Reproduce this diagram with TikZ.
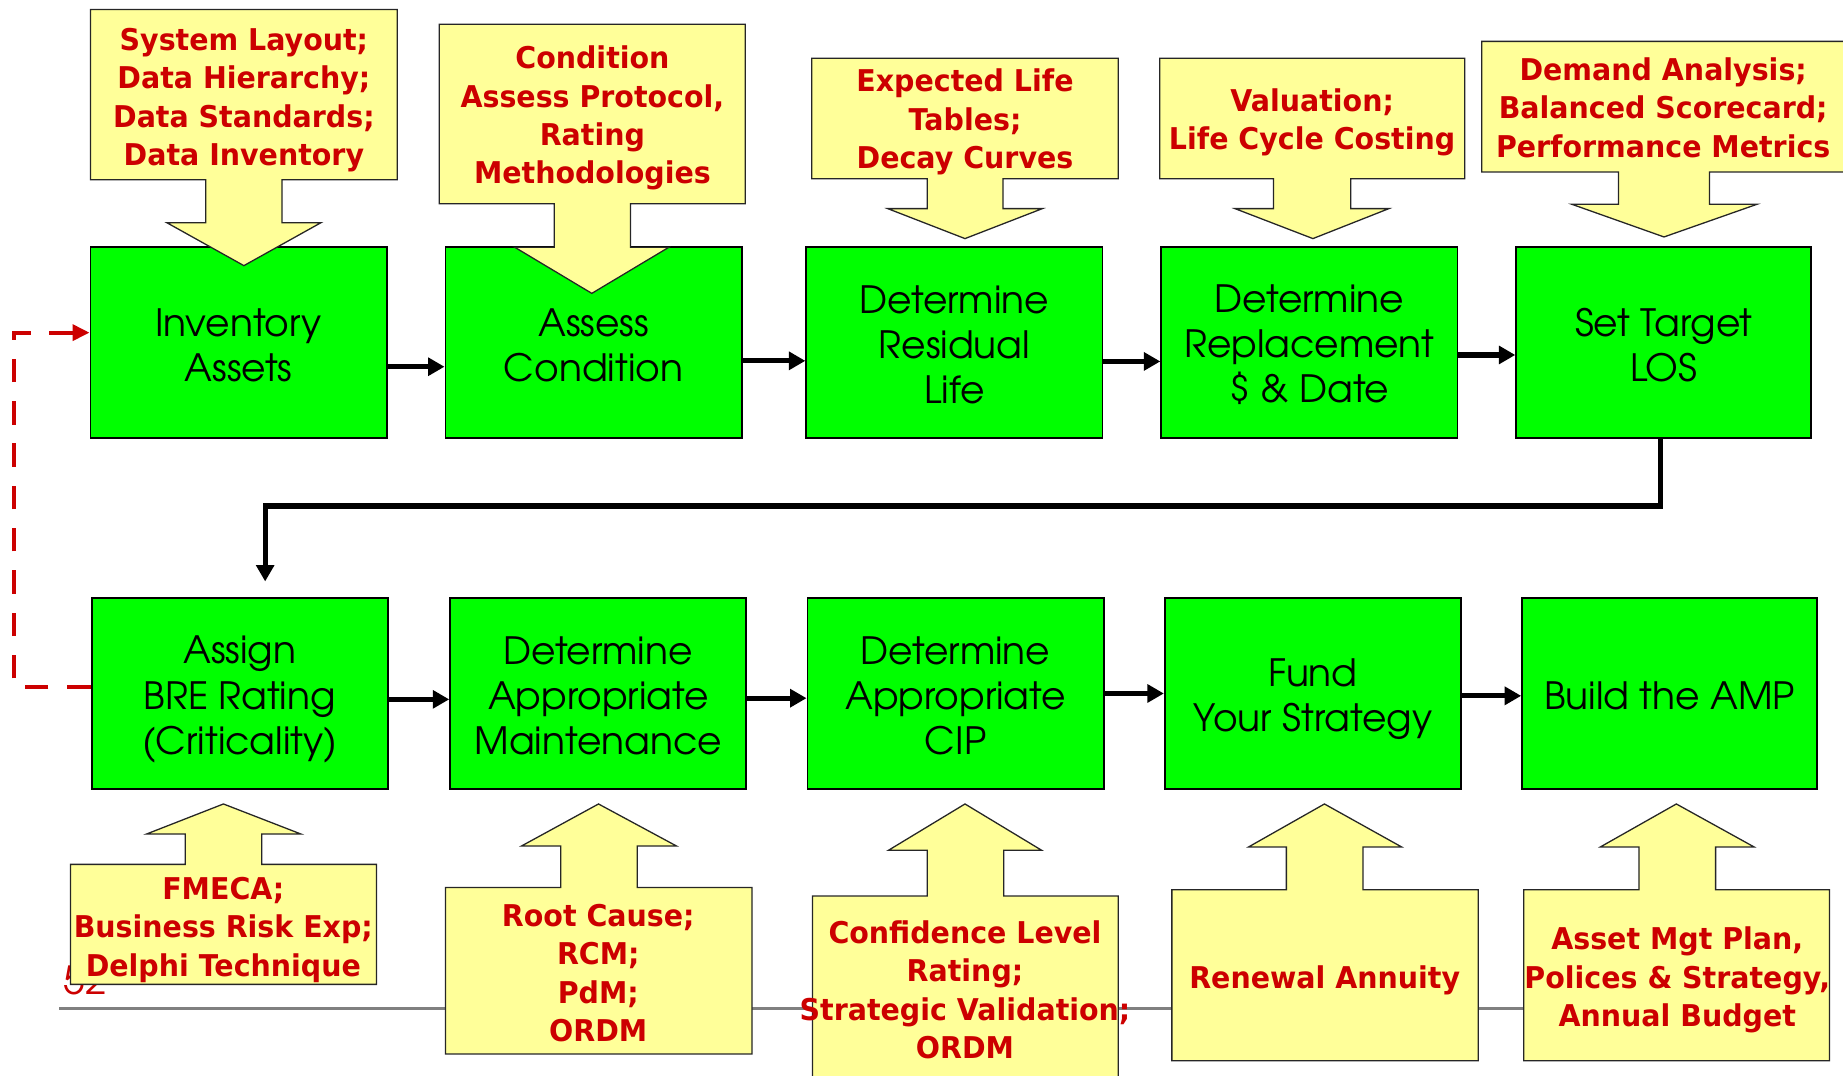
\documentclass[tikz,border=0pt]{standalone}
\usepackage{fontspec}
\usetikzlibrary{arrows.meta}
\newfontfamily\gothic{texgyreadventor-regular.otf}
\newfontfamily\callfont{DejaVu Sans}[FakeStretch=0.95]
\definecolor{gfill}{HTML}{00FF00}
\definecolor{yfill}{HTML}{FFFF99}
\definecolor{rtext}{HTML}{CC0000}
\definecolor{gline}{HTML}{808080}
\tikzset{
  gbox/.style={draw=black, line width=1.6pt, fill=gfill, minimum width=252pt, minimum height=163pt, inner sep=0pt},
  gtext/.style={align=center, inner sep=0pt, font=\gothic\fontsize{32}{38.3}\selectfont},
  ybox/.style={draw=black!85, line width=1.1pt, fill=yfill},
  ytext/.style={align=center, inner sep=0pt, text=rtext, font=\callfont\bfseries\fontsize{25.5}{32.7}\selectfont},
  conn/.style={draw=black, line width=4.5pt, -{Triangle[length=14pt,width=15pt]}},
  rconn/.style={draw=rtext, line width=3.4pt, dash pattern=on 20pt off 16pt, -{Triangle[length=14.5pt,width=13.5pt]}},
  baseline rule/.style={draw=gline, line width=2.8pt}
}
\begin{document}
\begin{tikzpicture}[x=1pt,y=-1pt]
\useasboundingbox (0,0) rectangle (1568,915);
% slide rule and page number
\draw[baseline rule] (50.4,858.3) -- (1550,858.3);
\node[anchor=base west, inner sep=0pt, text=rtext, font=\gothic\fontsize{33}{33}\selectfont] (pnum) at (54,846.5) {52};
% green process boxes
\node[gbox] (B1) at (203,291.5) {};
\node[gbox] (B2) at (505,291.5) {};
\node[gbox] (B3) at (812,291.5) {};
\node[gbox] (B4) at (1114,291.5) {};
\node[gbox, minimum width=251pt] (B5) at (1415.5,291.5) {};
\node[gbox] (C1) at (204,590) {};
\node[gbox] (C2) at (509,590) {};
\node[gbox] (C3) at (813,590) {};
\node[gbox] (C4) at (1117,590) {};
\node[gbox, minimum width=251pt] (C5) at (1420.5,590) {};
\node[gtext] (B1t) at ([yshift=-2pt]B1.center) {Inventory\\Assets};
\node[gtext] (B2t) at ([yshift=-2pt]B2.center) {Assess\\Condition};
\node[gtext] (B3t) at ([yshift=-2pt]B3.center) {Determine\\Residual\\Life};
\node[gtext] (B4t) at ([yshift=-2pt]B4.center) {Determine\\Replacement\\\$ \& Date};
\node[gtext] (B5t) at ([yshift=-2pt]B5.center) {Set Target\\LOS};
\node[gtext] (C1t) at ([yshift=-5pt]C1.center) {Assign\\BRE Rating\\(Criticality)};
\node[gtext] (C2t) at ([yshift=-2pt]C2.center) {Determine\\Appropriate\\Maintenance};
\node[gtext] (C3t) at ([yshift=-2pt]C3.center) {Determine\\Appropriate\\CIP};
\node[gtext] (C4t) at ([yshift=-5pt]C4.center) {Fund\\Your Strategy};
\node[gtext] (C5t) at ([yshift=-2pt]C5.center) {Build the AMP};
% yellow callouts (top, pointing down)
\draw[ybox] (77,8) -- (338,8) -- (338,153) -- (240,153) -- (240,189.5) -- (273,189.5) -- (207.5,226) -- (142,189.5) -- (175,189.5) -- (175,153) -- (77,153) -- cycle;
\draw[ybox] (373.7,20.7) -- (634,20.7) -- (634,173.3) -- (536.5,173.3) -- (536.5,210.4) -- (569,210.4) -- (503.5,249.6) -- (438,210.4) -- (471.5,210.4) -- (471.5,173.3) -- (373.7,173.3) -- cycle;
\draw[ybox] (690.7,49.6) -- (951.4,49.6) -- (951.4,152) -- (853.4,152) -- (853.4,177.5) -- (886.8,177.5) -- (821,203) -- (755.3,177.5) -- (788.8,177.5) -- (788.8,152) -- (690.7,152) -- cycle;
\draw[ybox] (986.6,49.6) -- (1246.1,49.6) -- (1246.1,152) -- (1149.2,152) -- (1149.2,177.5) -- (1181.6,177.5) -- (1117,203) -- (1050.7,177.5) -- (1083.5,177.5) -- (1083.5,152) -- (986.6,152) -- cycle;
\draw[ybox] (1260.6,35.2) -- (1572,35.2) -- (1572,146.3) -- (1454.4,146.3) -- (1454.4,173.8) -- (1494.8,173.8) -- (1415.7,201.6) -- (1337.3,173.8) -- (1377,173.8) -- (1377,146.3) -- (1260.6,146.3) -- cycle;
% yellow callouts (bottom, pointing up)
\draw[ybox] (59.9,837.5) -- (320.3,837.5) -- (320.3,735.4) -- (222.7,735.4) -- (222.7,709.6) -- (256.1,709.6) -- (190.1,684) -- (124.6,709.6) -- (157.6,709.6) -- (157.6,735.4) -- (59.9,735.4) -- cycle;
\draw[ybox] (379,896.7) -- (639.8,896.7) -- (639.8,755) -- (542.2,755) -- (542.2,719.8) -- (575.6,719.8) -- (509.2,684) -- (443.6,719.8) -- (477,719.8) -- (477,755) -- (379,755) -- cycle;
\draw[ybox] (691.3,925) -- (951.4,925) -- (951.4,762.3) -- (853.9,762.3) -- (853.9,723.4) -- (886.2,723.4) -- (821,684) -- (755.9,723.4) -- (788.8,723.4) -- (788.8,762.3) -- (691.3,762.3) -- cycle;
\draw[ybox] (997,902.4) -- (1257.7,902.4) -- (1257.7,757) -- (1159.6,757) -- (1159.6,720.6) -- (1192.5,720.6) -- (1126.8,684) -- (1062.2,720.6) -- (1094.4,720.6) -- (1094.4,757) -- (997,757) -- cycle;
\draw[ybox] (1296.3,902.4) -- (1556.5,902.4) -- (1556.5,757) -- (1459.6,757) -- (1459.6,720.6) -- (1492.4,720.6) -- (1426.2,684) -- (1361.5,720.6) -- (1394.4,720.6) -- (1394.4,757) -- (1296.3,757) -- cycle;
% callout texts
\node[ytext] (t1) at (207.5,85) {System Layout;\\Data Hierarchy;\\Data Standards;\\Data Inventory};
\node[ytext] (t2) at (504,100.5) {Condition\\Assess Protocol,\\Rating\\Methodologies};
\node[ytext] (t3) at (821,104) {Expected Life\\Tables;\\Decay Curves};
\node[ytext] (t4) at (1116.3,104) {Valuation;\\Life Cycle Costing};
\node[ytext] (t5) at (1415,91.5) {Demand Analysis;\\Balanced Scorecard;\\Performance Metrics};
\node[ytext] (u1) at (190,791) {FMECA;\\Business Risk Exp;\\Delphi Technique};
\node[ytext] (u2) at (509,828) {Root Cause;\\RCM;\\PdM;\\ORDM};
\node[ytext] (u3) at (821,842) {Confidence Level\\Rating;\\Strategic Validation;\\ORDM};
\node[ytext] (u4) at (1127,834) {Renewal Annuity};
\node[ytext] (u5) at (1427,834) {Asset Mgt Plan,\\Polices \& Strategy,\\Annual Budget};
% flow connectors
\draw[conn] (B1.east |- 0,312) -- (B2.west |- 0,312);
\draw[conn] (B2.east |- 0,307) -- (B3.west |- 0,307);
\draw[conn] (B3.east |- 0,307.5) -- (B4.west |- 0,307.5);
\draw[conn] (B4.east |- 0,302) -- (B5.west |- 0,302);
\coordinate (bend) at (225.6,430.5);
\draw[conn] (B5.south -| 1413,0) |- (bend) -- ([xshift=21.6pt,yshift=13pt]C1.north);
\draw[conn] (C1.east |- 0,595) -- (C2.west |- 0,595);
\draw[conn] (C2.east |- 0,594) -- (C3.west |- 0,594);
\draw[conn] (C3.east |- 0,590) -- (C4.west |- 0,590);
\draw[conn] (C4.east |- 0,592) -- (C5.west |- 0,592);
% feedback loop
\coordinate (loopcorner) at (12.2,283);
\draw[rconn] (C1.west |- 0,584.2) -| (loopcorner) -- (B1.west |- 0,283);
\end{tikzpicture}
\end{document}
